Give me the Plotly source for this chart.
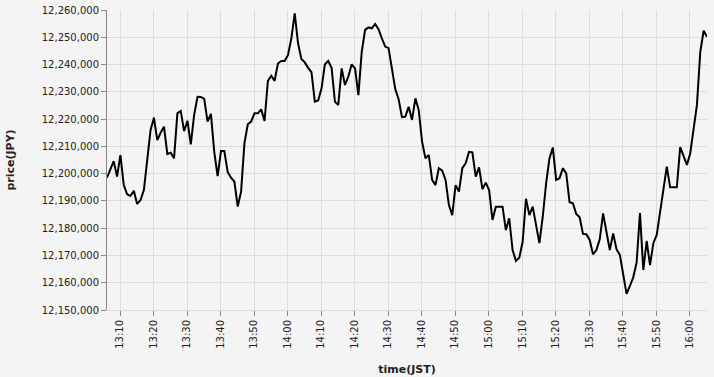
import pandas as pd
import plotly.graph_objects as go

# price in thousands above 12,000,000 JPY, 1-minute samples
start_time = "2024-01-01 13:06:07"
price_k = [
    198.5, 201.5, 204.6, 198.9, 206.8, 195.8, 192.4, 191.8, 193.7, 188.9,
    190.3, 194.0, 205.6, 216.0, 220.5, 212.3, 215.0, 217.2, 207.2, 207.7,
    205.6, 222.1, 223.0, 215.6, 219.4, 210.7, 221.5, 228.2, 228.1, 227.4,
    219.1, 221.9, 208.0, 199.1, 208.3, 208.3, 200.6, 198.5, 197.1, 187.9,
    193.4, 211.1, 218.1, 219.1, 222.1, 222.1, 223.6, 219.3, 234.0, 235.9,
    234.0, 240.4, 241.3, 241.3, 243.5, 249.6, 258.8, 247.8, 242.0, 240.8,
    238.8, 237.2, 226.4, 226.8, 231.3, 240.1, 241.3, 238.8, 226.4, 225.2,
    238.6, 232.5, 235.6, 240.1, 238.6, 228.8, 244.7, 252.7, 253.6, 253.3,
    254.9, 253.0, 249.6, 246.6, 246.0, 238.6, 231.0, 227.3, 220.7, 220.9,
    224.5, 219.7, 227.6, 223.3, 211.7, 205.6, 206.8, 197.7, 195.8, 202.0,
    201.1, 197.7, 188.5, 184.8, 195.8, 193.4, 202.0, 203.8, 208.0, 207.8,
    198.9, 202.3, 194.3, 196.7, 194.0, 183.0, 187.9, 187.9, 187.9, 179.3,
    183.6, 172.0, 168.0, 169.2, 175.0, 190.8, 184.8, 187.9, 180.5, 174.5,
    184.2, 196.4, 205.6, 209.6, 197.7, 198.3, 202.0, 200.1, 189.5, 189.1,
    185.2, 184.0, 177.9, 177.8, 175.7, 170.4, 172.0, 175.9, 185.4, 179.3,
    172.0, 178.1, 172.3, 170.2, 163.2, 155.9, 158.8, 162.0, 167.4, 185.5,
    164.7, 175.3, 166.5, 174.5, 177.5, 185.7, 195.6, 202.6, 195.0, 195.0,
    195.0, 209.7, 206.2, 203.2, 207.5, 216.0, 225.2, 244.7, 252.4, 250.2,
]

times = pd.date_range(start_time, periods=len(price_k), freq="1min")
prices = [12_000_000 + round(v * 1000) for v in price_k]

y_min, y_max, y_step = 12_150_000, 12_260_000, 10_000

fig = go.Figure(
    go.Scatter(
        x=times,
        y=prices,
        mode="lines",
        line=dict(color="black", width=2),
        hoverinfo="skip",
    )
)

font_family = "DejaVu Sans"
bg = "#f4f4f4"

fig.update_layout(
    width=714,
    height=377,
    margin=dict(l=107, r=7, t=10, b=67),
    paper_bgcolor=bg,
    plot_bgcolor=bg,
    showlegend=False,
    font=dict(family=font_family, size=10, color="#333"),
)

fig.update_xaxes(
    type="date",
    range=[times[0], times[-1]],
    tickformat="%H:%M",
    dtick=10 * 60 * 1000,
    tick0="2024-01-01 13:00:00",
    tickangle=-90,
    showgrid=True,
    gridcolor="#dddddd",
    gridwidth=1,
    showline=True,
    linecolor="#dddddd",
    ticks="outside",
    ticklen=5,
    tickcolor="#888888",
    tickfont=dict(family=font_family, size=10, color="#222"),
    zeroline=False,
    automargin=False,
    title=dict(
        text="<b>time(JST)</b>",
        font=dict(family=font_family, size=11, color="#222"),
        standoff=17,
    ),
)

fig.update_yaxes(
    range=[y_min, y_max],
    dtick=y_step,
    tick0=y_min,
    tickformat=",d",
    showgrid=True,
    gridcolor="#dddddd",
    gridwidth=1,
    showline=True,
    linecolor="#888888",
    ticks="outside",
    ticklen=5,
    tickcolor="#888888",
    tickfont=dict(family=font_family, size=10, color="#222"),
    zeroline=False,
    automargin=False,
    title=dict(
        text="<b>price(JPY)</b>",
        font=dict(family=font_family, size=11, color="#222"),
        standoff=24,
    ),
)

fig.write_html("out.html")
